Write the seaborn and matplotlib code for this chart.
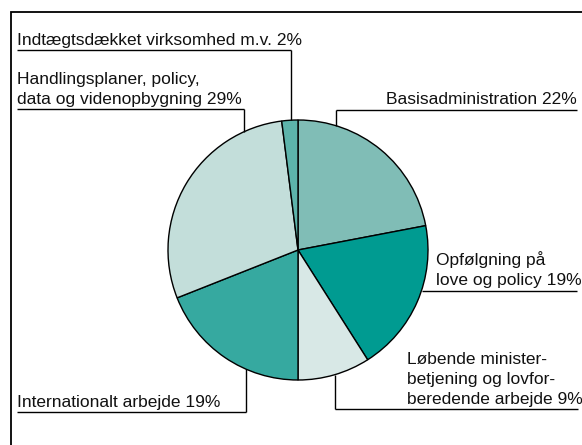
import matplotlib
matplotlib.use("Agg")
import matplotlib.pyplot as plt
from matplotlib.patches import Rectangle
import seaborn as sns

# shares, clockwise from 12 o'clock
labels = [
    ["Basisadministration 22%"],
    ["Opfølgning på", "love og policy 19%"],
    ["Løbende minister-", "betjening og lovfor-", "beredende arbejde 9%"],
    ["Internationalt arbejde 19%"],
    ["Handlingsplaner, policy,", "data og videnopbygning 29%"],
    ["Indtægtsdækket virksomhed m.v. 2%"],
]
shares = [22, 19, 9, 19, 29, 2]
colors = ["#80bdb6", "#009b91", "#d8e8e6", "#36a9a0", "#c3deda", "#5db4ab"]

W, H = 582, 445
CX, CY, R = 298, 250, 130

# layout in pixel coords (y down): text x, align, underline y, line x0, x1, leader x (None = horizontal only)
layout = [
    dict(tx=577, ha="right", uy=109.5, x0=336, x1=577, lx=336),
    dict(tx=436, ha="left", uy=290.5, x0=422, x1=577, lx=None),
    dict(tx=407, ha="left", uy=409, x0=335, x1=578, lx=335),
    dict(tx=17, ha="left", uy=412, x0=17, x1=246, lx=246),
    dict(tx=17, ha="left", uy=109, x0=17, x1=244, lx=244),
    dict(tx=17, ha="left", uy=49.5, x0=17, x1=291, lx=291),
]

sns.set_style("white")
plt.rcParams["font.family"] = ["Liberation Sans", "DejaVu Sans"]

fig = plt.figure(figsize=(W / 100, H / 100), dpi=100)
ax = fig.add_axes([0, 0, 1, 1])


def Y(y):
    return H - y


ax.pie(shares, colors=colors, startangle=90, counterclock=False,
       center=(CX, Y(CY)), radius=R,
       wedgeprops=dict(edgecolor="black", linewidth=1.0))

for lines, lay in zip(labels, layout):
    base = lay["uy"] - 5
    step = 20
    n = len(lines)
    for i, line in enumerate(lines):
        ax.text(lay["tx"], Y(base - (n - 1 - i) * step), line, ha=lay["ha"],
                va="baseline", fontsize=12.5, color="#111111")
    ax.plot([lay["x0"], lay["x1"]], [Y(lay["uy"]), Y(lay["uy"])],
            color="black", lw=1.0, solid_capstyle="butt")
    if lay["lx"] is not None:
        dx = lay["lx"] - CX
        dy = (R ** 2 - dx ** 2) ** 0.5
        edge = CY - dy if lay["uy"] < CY else CY + dy
        ax.plot([lay["lx"], lay["lx"]], [Y(lay["uy"]), Y(edge)],
                color="black", lw=1.0, solid_capstyle="butt")

ax.add_patch(Rectangle((11, -20), 620, Y(12) + 20, fill=False,
                       edgecolor="black", lw=1.3))

ax.set_xlim(0, W)
ax.set_ylim(0, H)
ax.set_aspect("equal")
ax.axis("off")

fig.savefig("out.png", dpi=100)
